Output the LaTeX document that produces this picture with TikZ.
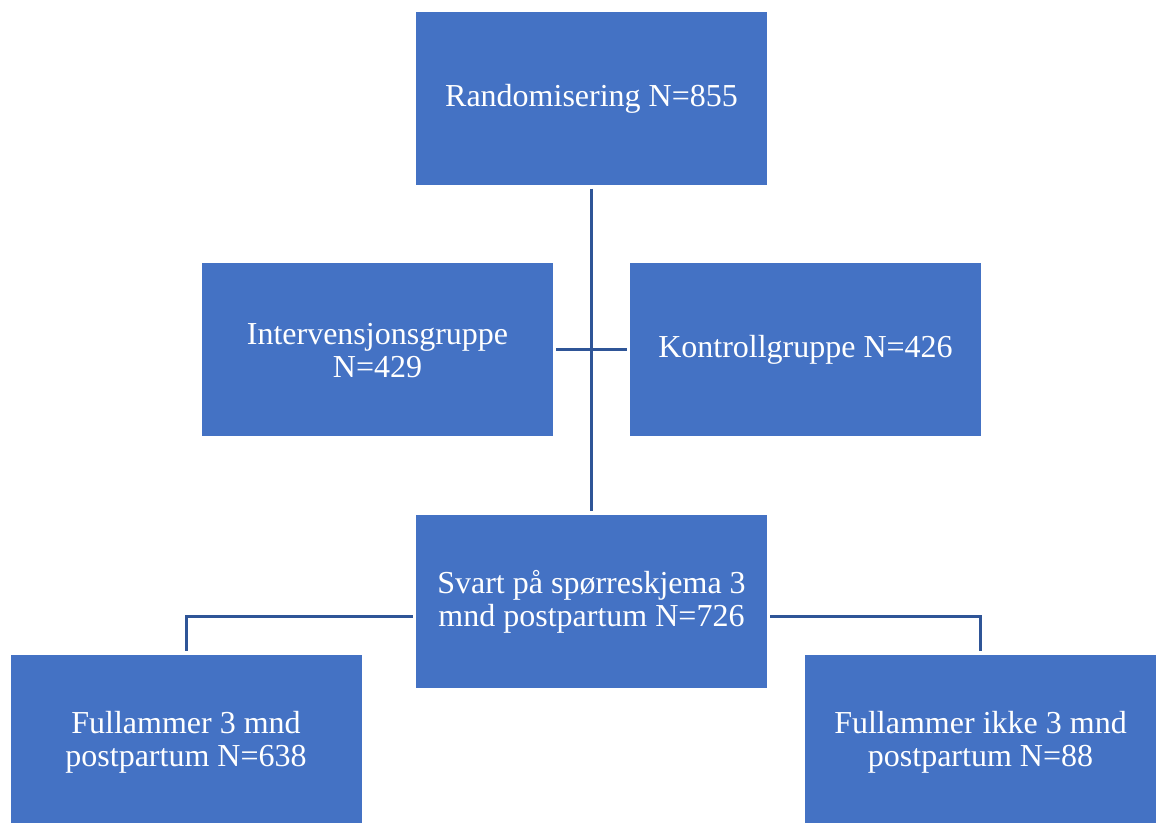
\documentclass[tikz,border=0pt]{standalone}
\usepackage{fontspec}
\setmainfont{Liberation Serif}
\definecolor{boksblaa}{HTML}{4472C4}
\definecolor{linjeblaa}{HTML}{2F5597}
\newcommand{\hoyde}{\rule{0pt}{17.5pt}}
\tikzset{
  boks/.style={rectangle, fill=boksblaa, text=white, minimum width=263.25pt,
    minimum height=129.75pt, align=center, inner sep=0pt,
    font=\fontsize{24}{25}\selectfont},
  linje/.style={draw=linjeblaa, line width=2.25pt}
}
\begin{document}
\begin{tikzpicture}[x=0.75pt, y=-0.75pt]
\useasboundingbox (0,0) rectangle (1156,823);
\clip (0,0) rectangle (1156,823);

\node[boks](rand) at (591.5,98.5){\hoyde Randomisering N=855};
\node[boks](interv) at (377.5,349.5){\hoyde Intervensjonsgruppe\\N=429};
\node[boks](kontroll) at (805.5,349.5){\hoyde Kontrollgruppe N=426};
\node[boks](svart) at (591.5,601.5){\hoyde Svart på spørreskjema 3\\mnd postpartum N=726};
\node[boks](fullja) at (186,741.5){\hoyde Fullammer 3 mnd\\postpartum N=638};
\node[boks](fullnei) at (980.5,741.5){\hoyde Fullammer ikke 3 mnd\\postpartum N=88};

% forbindelser
\draw[linje, shorten <=2.5pt, shorten >=2.5pt](rand.south)--(svart.north);
\draw[linje, shorten <=2.25pt, shorten >=2.25pt](interv.east)--(kontroll.west);
\draw[linje, shorten <=2.25pt, shorten >=2.5pt]([yshift=-10.9pt]svart.west) -| (fullja.north);
\draw[linje, shorten <=2.25pt, shorten >=2.5pt]([yshift=-10.9pt]svart.east) -| (fullnei.north);

\end{tikzpicture}
\end{document}
